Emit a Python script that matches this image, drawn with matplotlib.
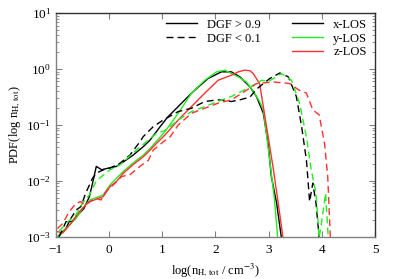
import numpy as np
import matplotlib
matplotlib.use('Agg')
import matplotlib.pyplot as plt
from matplotlib.lines import Line2D
from matplotlib.ticker import LogLocator, NullFormatter

plt.rcParams['font.family'] = ['Liberation Serif', 'DejaVu Serif']
plt.rcParams['mathtext.fontset'] = 'stix'
plt.rcParams['font.size'] = 8

# log10(PDF)
# DGF > 0.9 (solid)
x_hi_x = [-0.97, -0.81, -0.75, -0.69, -0.59, -0.47, -0.37, -0.31, -0.24, -0.14, -0.01, 0.14, 0.27, 0.45,
          0.64, 0.77, 0.96, 1.10, 1.30, 1.55, 1.86, 2.11, 2.30, 2.46, 2.65, 2.77, 2.90, 2.99, 3.05, 3.15, 3.24]
x_hi_y = [-3.0, -2.85, -2.73, -2.72, -2.61, -2.49, -2.28, -2.04, -1.74, -1.80, -1.77, -1.74, -1.66, -1.54,
          -1.39, -1.27, -1.03, -0.86, -0.67, -0.43, -0.17, -0.05, -0.05, -0.14, -0.32, -0.49, -0.79, -1.33,
          -1.92, -2.40, -3.02]

y_hi_x = [-0.97, -0.91, -0.75, -0.62, -0.50, -0.36, -0.11, 0.02, 0.14, 0.27, 0.45, 0.64, 0.77, 1.05, 1.30,
          1.55, 1.80, 2.02, 2.18, 2.30, 2.43, 2.58, 2.70, 2.83, 2.90, 3.02, 3.11, 3.17]
y_hi_y = [-3.0, -2.96, -2.79, -2.67, -2.49, -2.34, -2.25, -2.07, -1.95, -1.83, -1.68, -1.54, -1.42, -1.12,
          -0.79, -0.43, -0.20, -0.05, -0.02, -0.08, -0.14, -0.23, -0.38, -0.58, -0.73, -1.63, -2.34, -3.02]

z_hi_x = [-1.0, -0.87, -0.69, -0.56, -0.44, -0.36, -0.11, 0.02, 0.14, 0.27, 0.45, 0.64, 0.77, 0.89, 1.05,
          1.30, 1.55, 1.80, 2.05, 2.30, 2.43, 2.55, 2.65, 2.71, 2.83, 2.96, 3.09, 3.18, 3.27]
z_hi_y = [-2.90, -2.93, -2.73, -2.55, -2.43, -2.37, -2.28, -2.10, -2.01, -1.86, -1.71, -1.57, -1.45, -1.33,
          -1.18, -0.91, -0.67, -0.43, -0.20, -0.11, -0.05, -0.02, -0.03, -0.08, -0.26, -1.03, -1.80, -2.40,
          -3.02]

# DGF < 0.1 (dashed)
x_lo_x = [-0.94, -0.81, -0.75, -0.62, -0.53, -0.44, -0.31, -0.22, -0.10, 0.02, 0.21, 0.39, 0.58, 0.64,
          0.83, 1.02, 1.30, 1.55, 1.80, 2.05, 2.30, 2.46, 2.65, 2.77, 3.02, 3.21, 3.37, 3.52, 3.62, 3.71,
          3.77, 3.83, 3.89, 3.95]
x_lo_y = [-3.0, -2.73, -2.72, -2.52, -2.46, -2.22, -1.95, -1.85, -1.80, -1.77, -1.68, -1.54, -1.30, -1.21,
          -1.03, -0.91, -0.76, -0.70, -0.58, -0.55, -0.58, -0.55, -0.50, -0.36, -0.17, -0.07, -0.14, -0.49,
          -1.03, -1.63, -2.37, -2.04, -2.40, -3.02]

y_lo_x = [-0.94, -0.81, -0.62, -0.50, -0.37, -0.24, -0.14, 0.02, 0.21, 0.51, 0.70, 0.89, 1.05, 1.30, 1.55,
          1.80, 2.05, 2.30, 2.49, 2.71, 2.87, 3.00, 3.24, 3.43, 3.58, 3.71, 3.80, 3.89, 3.95, 4.01, 4.07, 4.12]
y_lo_y = [-2.90, -2.76, -2.60, -2.40, -2.25, -2.00, -1.92, -1.80, -1.71, -1.45, -1.30, -1.15, -1.10, -0.91,
          -0.76, -0.67, -0.58, -0.49, -0.40, -0.29, -0.20, -0.22, -0.08, -0.20, -0.61, -1.21, -1.80, -2.22,
          -3.02, -2.64, -2.22, -3.02]

z_lo_x = [-0.97, -0.87, -0.75, -0.62, -0.53, -0.47, -0.25, -0.15, -0.06, 0.08, 0.24, 0.39, 0.58, 0.74,
          0.83, 1.02, 1.15, 1.30, 1.55, 1.80, 2.05, 2.30, 2.55, 2.77, 3.09, 3.40, 3.56, 3.71, 3.83, 3.95,
          4.05, 4.11, 4.16]
z_lo_y = [-2.85, -2.76, -2.55, -2.40, -2.37, -2.43, -2.31, -2.34, -2.19, -2.07, -1.92, -1.89, -1.74, -1.63,
          -1.45, -1.30, -1.21, -1.00, -0.79, -0.70, -0.61, -0.55, -0.40, -0.26, -0.23, -0.26, -0.37, -0.43,
          -0.73, -0.82, -1.33, -1.92, -3.02]

colors = {'x': 'black', 'y': '#22ee22', 'z': '#ff3030'}
dash = (5, 3)

fig = plt.figure(figsize=(3.99, 2.79), dpi=100)
ax = fig.add_axes([0.140, 0.151, 0.800, 0.802])

for lbl, xs, ys in [('x', x_hi_x, x_hi_y), ('y', y_hi_x, y_hi_y), ('z', z_hi_x, z_hi_y)]:
    ax.plot(xs, 10 ** np.array(ys), color=colors[lbl], lw=1.0)
for lbl, xs, ys in [('x', x_lo_x, x_lo_y), ('y', y_lo_x, y_lo_y), ('z', z_lo_x, z_lo_y)]:
    ax.plot(xs, 10 ** np.array(ys), color=colors[lbl], lw=1.0, dashes=dash)

ax.set_yscale('log')
ax.set_xlim(-1, 5)
ax.set_ylim(1e-3, 10)
ax.set_xticks([-1, 0, 1, 2, 3, 4, 5])
ax.yaxis.set_minor_locator(LogLocator(base=10, subs=np.arange(2, 10), numticks=20))
ax.yaxis.set_minor_formatter(NullFormatter())
ax.tick_params(which='both', direction='in', top=True, right=True, color='#808080', labelsize=9.5)
ax.tick_params(which='major', length=4)
ax.tick_params(which='minor', length=2)
ax.tick_params(axis='x', pad=5)
for s in ['left', 'bottom']:
    ax.spines[s].set_color('#808080')
for s in ['top', 'right']:
    ax.spines[s].set_color('#303030')
for s in ax.spines.values():
    s.set_linewidth(1.0)

ax.set_xlabel(r'log(n$_{\rm H,\,tot}$ / cm$^{-3}$)', fontsize=9, labelpad=4)
ax.set_ylabel(r'PDF(log n$_{\rm H,\,tot}$)', fontsize=9, labelpad=2)

h_dgf = [Line2D([], [], color='black', lw=1.0),
         Line2D([], [], color='black', lw=1.0, dashes=dash)]
leg1 = ax.legend(h_dgf, ['DGF > 0.9', 'DGF < 0.1'], loc='upper left', bbox_to_anchor=(0.345, 0.975),
                 frameon=False, fontsize=9, handlelength=2.5, handletextpad=0.8, labelspacing=0.15,
                 borderpad=0, borderaxespad=0)
ax.add_artist(leg1)
h_los = [Line2D([], [], color=colors[k], lw=1.0) for k in ['x', 'y', 'z']]
ax.legend(h_los, ['x-LOS', 'y-LOS', 'z-LOS'], loc='upper left', bbox_to_anchor=(0.740, 0.975),
          frameon=False, fontsize=9, handlelength=2.5, handletextpad=0.8, labelspacing=0.15,
          borderpad=0, borderaxespad=0)

fig.savefig('out.png', dpi=100)
